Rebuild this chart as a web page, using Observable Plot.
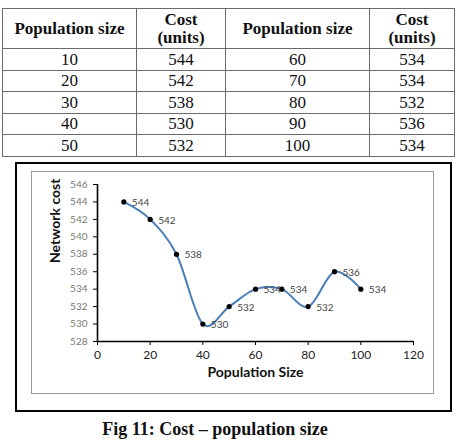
<!DOCTYPE html>
<html>
<head>
<meta charset="utf-8">
<script src="https://cdn.jsdelivr.net/npm/d3@7"></script>
<script src="https://cdn.jsdelivr.net/npm/@observablehq/plot@0.6"></script>
<style>
  html, body { margin: 0; padding: 0; background: #fff; width: 455px; height: 440px; overflow: hidden; }
  #tbl { position: absolute; left: 2px; top: 8px; border-collapse: collapse; font-family: "Liberation Serif", "Times New Roman", serif; font-size: 17px; color: #111; }
  #tbl td, #tbl th { border: 1.5px solid #6b6b6b; text-align: center; padding: 0; line-height: 17px; }
  #tbl th { height: 39px; font-weight: bold; line-height: 18px; }
  #tbl td { height: 20.5px; }
  #frame { position: absolute; left: 15px; top: 162px; width: 433px; height: 246px; border: 2px solid #000; }
  #inner { position: absolute; left: 31px; top: 171px; width: 403px; height: 223px; border: 1px solid #9a9a9a; box-sizing: border-box; }
  #chart { position: absolute; left: 32px; top: 172px; }
  #caption { position: absolute; left: 0; width: 430px; top: 419px; text-align: center; font-family: "Liberation Serif", "Times New Roman", serif; font-weight: bold; font-size: 18px; color: #111; }
</style>
</head>
<body>
<table id="tbl"></table>
<div id="frame"></div>
<div id="inner"></div>
<div id="chart"></div>
<div id="caption">Fig 11: Cost – population size</div>
<script>
const popSize = [10, 20, 30, 40, 50, 60, 70, 80, 90, 100];
const cost = [544, 542, 538, 530, 532, 534, 534, 532, 536, 534];
const headers = ["Population size", "Cost<br>(units)", "Population size", "Cost<br>(units)"];
const colWidths = [133, 88, 143, 84];
const xTicks = [0, 20, 40, 60, 80, 100, 120];
const yTicks = [528, 530, 532, 534, 536, 538, 540, 542, 544, 546];
const xLabel = "Population Size";
const yLabel = "Network cost";

// Table
const tbl = document.getElementById("tbl");
let html = "<tr>" + headers.map((h, i) => `<th style="width:${colWidths[i]}px">${h}</th>`).join("") + "</tr>";
for (let i = 0; i < 5; i++) {
  html += `<tr><td>${popSize[i]}</td><td>${cost[i]}</td><td>${popSize[i + 5]}</td><td>${cost[i + 5]}</td></tr>`;
}
tbl.innerHTML = html;

const data = popSize.map((p, i) => ({p, c: cost[i]}));

const chart = Plot.plot({
  width: 403,
  height: 223,
  marginLeft: 65,
  marginRight: 22,
  marginTop: 12,
  marginBottom: 54,
  style: {background: "transparent", fontFamily: "Lato, 'DejaVu Sans', sans-serif", overflow: "visible"},
  x: {domain: [0, 120], ticks: xTicks},
  y: {domain: [528, 546], ticks: yTicks},
  marks: [
    Plot.axisY({ticks: yTicks, tickSize: 4, tickPadding: 6, tickFormat: d => d, fontSize: 10, color: "#777", stroke: "#000", label: null}),
    Plot.axisX({ticks: xTicks, tickSize: 4, tickPadding: 5, tickFormat: d => d, fontSize: 12, color: "#222", stroke: "#000", label: null}),
    Plot.ruleX([0], {stroke: "#000", strokeWidth: 1.6}),
    Plot.ruleY([528], {stroke: "#000", strokeWidth: 1.6}),
    Plot.line(data, {x: "p", y: "c", curve: "cardinal", stroke: "#4a7ebb", strokeWidth: 2}),
    Plot.dot(data, {x: "p", y: "c", r: 2.6, fill: "#000"}),
    Plot.text(data, {x: "p", y: "c", text: d => String(d.c), textAnchor: "start", dx: 8, dy: 1, fontSize: 10, fill: "#444"}),
    Plot.text([xLabel], {frameAnchor: "bottom", dy: 35, text: d => d, fontSize: 14, fontWeight: "bold", fill: "#111"}),
    Plot.text([yLabel], {frameAnchor: "left", dx: -42, rotate: -90, text: d => d, fontSize: 14, fontWeight: "bold", fill: "#111"})
  ]
});
document.getElementById("chart").appendChild(chart);
</script>
</body>
</html>
